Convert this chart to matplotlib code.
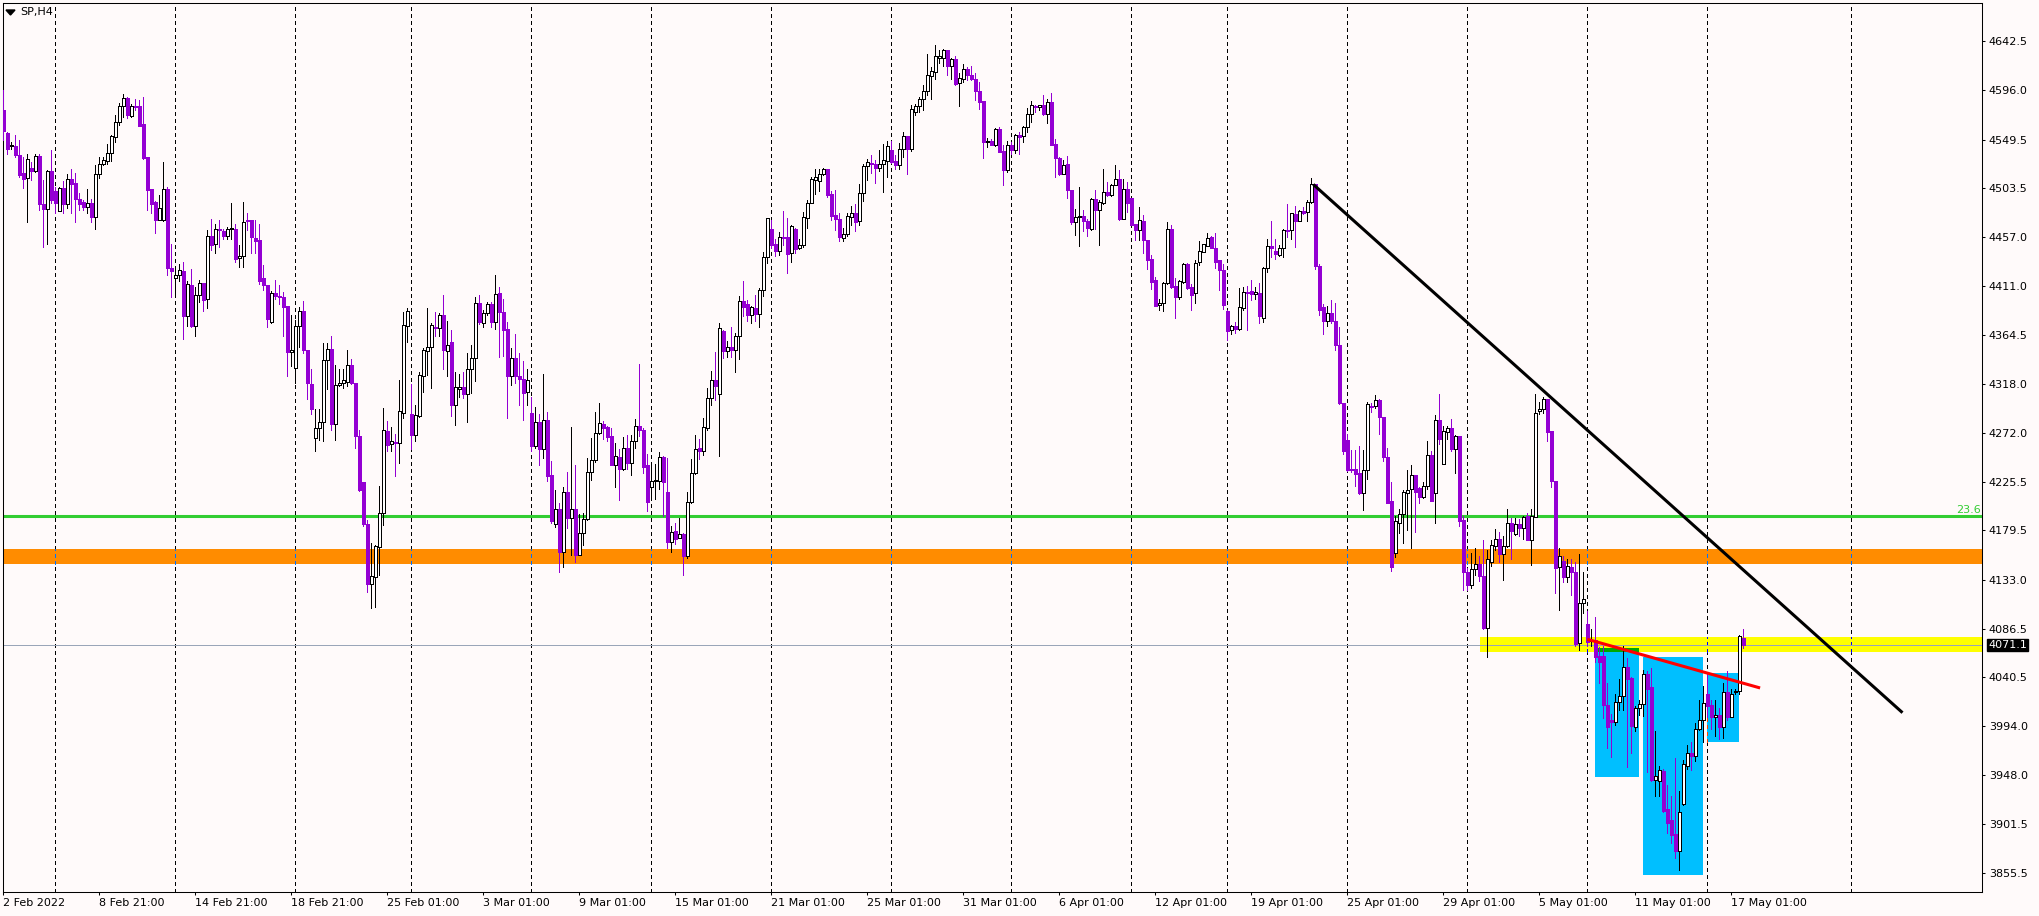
import matplotlib.pyplot as plt
import numpy as np
from matplotlib.patches import Rectangle, Polygon

# SP, H4 bars (index = bar number from 2 Feb 2022)
opens = [
    4577, 4556, 4543, 4543, 4535, 4518, 4513, 4523, 4520, 4534, 4488, 4484,
    4520, 4501, 4482, 4504, 4488, 4512, 4508, 4493, 4490, 4486, 4489, 4476,
    4517, 4526, 4529, 4537, 4552, 4566, 4581, 4589, 4572, 4581, 4581, 4564,
    4533, 4503, 4490, 4473, 4473, 4503, 4428, 4418, 4421, 4425, 4382, 4412,
    4373, 4402, 4414, 4399, 4458, 4451, 4465, 4463, 4458, 4465, 4465, 4437,
    4439, 4473, 4473, 4456, 4454, 4418, 4412, 4377, 4404, 4401, 4400, 4392,
    4348, 4333, 4373, 4387, 4350, 4318, 4267, 4276, 4282, 4341, 4351, 4280,
    4317, 4319, 4320, 4336, 4319, 4269, 4225, 4186, 4129, 4135, 4164, 4196,
    4274, 4261, 4263, 4262, 4291, 4373, 4290, 4270, 4288, 4326, 4349, 4353,
    4372, 4371, 4383, 4349, 4358, 4298, 4313, 4315, 4309, 4332, 4343, 4395,
    4376, 4385, 4394, 4377, 4404, 4386, 4370, 4326, 4343, 4326, 4323, 4311,
    4291, 4259, 4282, 4257, 4284, 4232, 4186, 4200, 4159, 4216, 4191, 4200,
    4156, 4177, 4190, 4235, 4246, 4272, 4280, 4277, 4269, 4241, 4249, 4238,
    4258, 4243, 4264, 4278, 4275, 4241, 4221, 4226, 4226, 4249, 4216, 4169,
    4179, 4172, 4176, 4155, 4206, 4234, 4258, 4255, 4276, 4305, 4322, 4309,
    4368, 4349, 4353, 4350, 4364, 4397, 4394, 4383, 4390, 4384, 4407, 4438,
    4465, 4451, 4444, 4457, 4457, 4442, 4465, 4447, 4450, 4475, 4489, 4511,
    4510, 4517, 4522, 4498, 4478, 4474, 4456, 4460, 4476, 4480, 4472, 4499,
    4524, 4527, 4526, 4523, 4526, 4529, 4540, 4529, 4525, 4541, 4553, 4541,
    4576, 4581, 4588, 4595, 4610, 4613, 4627, 4627, 4634, 4619, 4626, 4603,
    4607, 4616, 4611, 4607, 4595, 4586, 4547, 4548, 4544, 4559, 4539, 4521,
    4544, 4540, 4554, 4553, 4561, 4574, 4581, 4580, 4582, 4574, 4585, 4545,
    4532, 4517, 4526, 4502, 4471, 4476, 4477, 4472, 4465, 4493, 4483, 4489,
    4500, 4497, 4506, 4512, 4474, 4503, 4494, 4470, 4464, 4472, 4454, 4436,
    4417, 4393, 4395, 4414, 4465, 4411, 4400, 4415, 4432, 4410, 4404, 4434,
    4443, 4449, 4457, 4447, 4435, 4426, 4387, 4369, 4373, 4370, 4390, 4405,
    4406, 4403, 4404, 4381, 4428, 4449, 4444, 4440, 4447, 4464, 4464, 4479,
    4472, 4482, 4481, 4490, 4507, 4430, 4391, 4378, 4385, 4378, 4355, 4300,
    4265, 4238, 4238, 4234, 4215, 4237, 4297.5, 4297, 4303, 4287, 4249, 4207,
    4158, 4187, 4195, 4215, 4219, 4232, 4220, 4211, 4222, 4251, 4215, 4284,
    4242, 4273, 4276, 4257, 4269, 4189, 4140, 4128, 4143, 4148, 4136, 4087,
    4150, 4165, 4171, 4157, 4165, 4187, 4176, 4186, 4182, 4193, 4170, 4192,
    4293, 4294, 4304, 4274, 4226, 4145, 4151, 4135, 4145, 4140, 4073, 4111,
    4091, 4075, 4076, 4061, 4061, 4014, 4000, 3998, 4017, 4023, 4050, 4040,
    3993, 4011, 4015, 4044, 4031, 3943, 3942, 3952, 3916, 3905, 3892, 3876,
    3921, 3957, 3969, 3966, 3992, 4000, 4025, 4014, 4003, 4005, 3993, 4027,
    4003, 4027, 4028, 4078,
]
highs = [
    4596, 4557, 4547, 4554, 4549, 4533, 4536, 4528, 4536, 4536, 4511, 4521,
    4540, 4505, 4505, 4510, 4517, 4522, 4518, 4499, 4492, 4503, 4493, 4525,
    4533, 4533, 4545, 4554, 4573, 4584, 4593, 4590, 4583, 4588, 4587, 4590,
    4533, 4503, 4491, 4497, 4528, 4505, 4451, 4428, 4432, 4434, 4416, 4427,
    4410, 4417, 4414, 4464, 4474, 4470, 4473, 4465, 4467, 4489, 4470, 4450,
    4490, 4480, 4473, 4473, 4470, 4431, 4412, 4406, 4417, 4412, 4405, 4392,
    4383, 4379, 4391, 4397, 4350, 4332, 4294, 4294, 4357, 4357, 4364, 4336,
    4332, 4332, 4350, 4342, 4319, 4275, 4225, 4189, 4168, 4166, 4222, 4295,
    4283, 4277, 4271, 4322, 4386, 4390, 4318, 4298, 4329, 4352, 4390, 4376,
    4386, 4385, 4402, 4378, 4369, 4329, 4328, 4329, 4347, 4355, 4400, 4402,
    4388, 4396, 4396, 4421, 4410, 4399, 4377, 4352, 4365, 4347, 4340, 4332,
    4306, 4296, 4290, 4328, 4292, 4245, 4218, 4205, 4221, 4235, 4277, 4241,
    4195, 4196, 4248, 4267, 4292, 4300, 4283, 4278, 4276, 4262, 4257, 4268,
    4270, 4270, 4285, 4337, 4276, 4252, 4242, 4242, 4254, 4250, 4248, 4184,
    4187, 4191, 4177, 4216, 4247, 4270, 4266, 4286, 4314, 4330, 4348, 4376,
    4369, 4359, 4372, 4366, 4401, 4416, 4398, 4392, 4402, 4409, 4443, 4475,
    4473, 4455, 4462, 4482, 4475, 4469, 4466, 4455, 4481, 4492, 4514, 4522,
    4522, 4523, 4522, 4501, 4502, 4480, 4466, 4480, 4487, 4488, 4507, 4526,
    4531, 4535, 4530, 4540, 4545, 4548, 4548, 4535, 4546, 4557, 4553, 4582,
    4583, 4590, 4601, 4630, 4618, 4639, 4634, 4635, 4634, 4627, 4629, 4612,
    4621, 4618, 4619, 4612, 4604, 4586, 4551, 4550, 4560, 4561, 4544, 4548,
    4547, 4555, 4557, 4562, 4579, 4586, 4582, 4582, 4592, 4588, 4594, 4550,
    4533, 4530, 4534, 4502, 4484, 4505, 4483, 4474, 4494, 4502, 4492, 4522,
    4509, 4507, 4525, 4521, 4512, 4509, 4494, 4470, 4486, 4478, 4454, 4440,
    4419, 4399, 4415, 4471, 4469, 4418, 4417, 4433, 4433, 4413, 4435, 4453,
    4451, 4461, 4458, 4461, 4435, 4432, 4388, 4374, 4377, 4409, 4410, 4411,
    4417, 4410, 4414, 4429, 4455, 4472, 4455, 4450, 4465, 4488, 4480, 4487,
    4483, 4486, 4492, 4513, 4507, 4432, 4394, 4392, 4398, 4395, 4372, 4300,
    4271, 4256, 4256, 4259, 4256, 4301, 4300, 4308, 4304, 4287, 4258, 4225,
    4193, 4200, 4218, 4237, 4241, 4232, 4221, 4225, 4264, 4255, 4289, 4309,
    4278, 4278, 4285, 4270, 4269, 4193, 4144, 4158, 4163, 4155, 4170, 4161,
    4170, 4181, 4178, 4174, 4200, 4191, 4191, 4190, 4193, 4196, 4200, 4309,
    4301, 4306, 4304, 4274, 4226, 4163, 4155, 4152, 4152, 4150, 4157, 4140,
    4103, 4086, 4098, 4069, 4070, 4035, 4006, 4025, 4039, 4070, 4059, 4041,
    4013, 4019, 4047, 4046, 4049, 3990, 3957, 3954, 3939, 3928, 3964, 3933,
    3962, 3976, 3979, 3997, 4019, 4032, 4044, 4019, 4019, 4011, 4035, 4046,
    4029, 4029, 4081, 4086,
]
lows = [
    4549, 4536, 4541, 4533, 4514, 4504, 4471, 4511, 4519, 4483, 4448, 4451,
    4489, 4480, 4482, 4480, 4485, 4480, 4471, 4483, 4483, 4480, 4471, 4465,
    4513, 4525, 4526, 4529, 4547, 4563, 4571, 4570, 4571, 4577, 4562, 4531,
    4483, 4480, 4461, 4473, 4472, 4421, 4400, 4404, 4416, 4361, 4373, 4372,
    4364, 4396, 4387, 4390, 4445, 4442, 4448, 4455, 4455, 4455, 4434, 4429,
    4429, 4464, 4442, 4442, 4413, 4407, 4372, 4376, 4399, 4394, 4364, 4326,
    4335, 4319, 4353, 4347, 4304, 4290, 4255, 4265, 4264, 4313, 4275, 4265,
    4316, 4314, 4316, 4318, 4258, 4217, 4184, 4121, 4106, 4107, 4137, 4185,
    4255, 4255, 4231, 4243, 4286, 4358, 4257, 4264, 4287, 4311, 4327, 4314,
    4364, 4364, 4332, 4326, 4288, 4279, 4306, 4305, 4282, 4310, 4321, 4375,
    4372, 4383, 4372, 4370, 4344, 4345, 4286, 4317, 4319, 4298, 4284, 4298,
    4255, 4258, 4241, 4248, 4226, 4187, 4183, 4140, 4145, 4182, 4156, 4150,
    4156, 4166, 4189, 4227, 4244, 4271, 4266, 4264, 4241, 4221, 4208, 4237,
    4238, 4232, 4258, 4269, 4234, 4198, 4211, 4209, 4219, 4193, 4163, 4159,
    4167, 4172, 4137, 4153, 4205, 4233, 4247, 4251, 4275, 4298, 4303, 4250,
    4343, 4344, 4344, 4329, 4342, 4382, 4378, 4376, 4378, 4372, 4401, 4433,
    4447, 4439, 4440, 4450, 4423, 4434, 4442, 4446, 4448, 4466, 4489, 4498,
    4501, 4516, 4495, 4473, 4464, 4453, 4453, 4458, 4469, 4463, 4469, 4491,
    4511, 4518, 4508, 4520, 4500, 4514, 4527, 4522, 4522, 4533, 4517, 4539,
    4573, 4576, 4577, 4592, 4588, 4607, 4622, 4619, 4611, 4607, 4601, 4581,
    4604, 4606, 4606, 4587, 4578, 4532, 4542, 4544, 4543, 4538, 4506, 4519,
    4536, 4537, 4536, 4547, 4557, 4566, 4576, 4577, 4573, 4565, 4544, 4514,
    4516, 4517, 4494, 4470, 4459, 4449, 4463, 4458, 4464, 4465, 4450, 4488,
    4496, 4496, 4506, 4473, 4474, 4481, 4469, 4454, 4454, 4442, 4427, 4408,
    4392, 4388, 4387, 4413, 4409, 4381, 4399, 4414, 4408, 4388, 4395, 4431,
    4443, 4449, 4447, 4428, 4407, 4389, 4360, 4365, 4366, 4369, 4388, 4369,
    4398, 4399, 4376, 4377, 4424, 4438, 4436, 4439, 4438, 4457, 4455, 4448,
    4472, 4479, 4472, 4489, 4427, 4383, 4365, 4373, 4376, 4350, 4299, 4252,
    4236, 4235, 4222, 4214, 4199, 4228, 4292, 4295, 4271, 4245, 4205, 4141,
    4154, 4177, 4168, 4180, 4163, 4178, 4205, 4210, 4219, 4207, 4187, 4261,
    4242, 4266, 4255, 4234, 4184, 4123, 4123, 4125, 4137, 4132, 4086, 4060,
    4146, 4161, 4150, 4133, 4164, 4152, 4175, 4174, 4171, 4170, 4147, 4192,
    4290, 4291, 4264, 4221, 4120, 4104, 4131, 4131, 4118, 4070, 4066, 4101,
    4070, 4070, 4055, 4035, 4002, 3974, 3965, 3995, 4010, 4010, 3956, 3969,
    3990, 4005, 4004, 3951, 3942, 3928, 3928, 3913, 3893, 3884, 3869, 3858,
    3920, 3954, 3953, 3961, 3991, 3979, 4003, 3992, 3985, 3982, 3983, 4000,
    4003, 4025, 4025, 4068,
]
closes = [
    4558, 4541, 4544, 4535, 4516, 4512, 4531, 4520, 4534, 4488, 4484, 4520,
    4492, 4489, 4504, 4488, 4512, 4507, 4493, 4488, 4486, 4489, 4476, 4517,
    4526, 4530, 4537, 4553, 4566, 4581, 4589, 4573, 4581, 4580, 4562, 4532,
    4502, 4488, 4473, 4485, 4503, 4428, 4425, 4421, 4426, 4382, 4413, 4373,
    4402, 4414, 4398, 4458, 4450, 4465, 4464, 4458, 4465, 4466, 4436, 4439,
    4471, 4472, 4457, 4453, 4416, 4412, 4380, 4404, 4401, 4400, 4391, 4348,
    4350, 4373, 4387, 4350, 4319, 4294, 4276, 4282, 4341, 4351, 4280, 4317,
    4319, 4322, 4336, 4319, 4269, 4218, 4186, 4129, 4136, 4165, 4196, 4275,
    4260, 4264, 4262, 4293, 4374, 4387, 4270, 4289, 4327, 4350, 4353, 4374,
    4371, 4383, 4350, 4355, 4298, 4315, 4315, 4309, 4332, 4343, 4395, 4377,
    4385, 4394, 4377, 4403, 4386, 4369, 4326, 4343, 4326, 4323, 4310, 4322,
    4259, 4282, 4257, 4284, 4231, 4188, 4200, 4159, 4216, 4191, 4200, 4156,
    4177, 4190, 4235, 4246, 4272, 4281, 4276, 4268, 4241, 4250, 4238, 4258,
    4243, 4264, 4278, 4275, 4240, 4206, 4226, 4227, 4249, 4225, 4169, 4178,
    4171, 4176, 4155, 4206, 4234, 4257, 4255, 4277, 4305, 4322, 4316, 4371,
    4349, 4353, 4350, 4364, 4397, 4391, 4383, 4391, 4384, 4407, 4438, 4475,
    4450, 4444, 4457, 4456, 4441, 4468, 4446, 4450, 4476, 4489, 4512, 4514,
    4517, 4522, 4497, 4477, 4474, 4457, 4460, 4477, 4480, 4471, 4499, 4524,
    4528, 4526, 4523, 4526, 4530, 4543, 4528, 4525, 4541, 4553, 4541, 4578,
    4581, 4588, 4595, 4611, 4614, 4629, 4629, 4634, 4619, 4626, 4602, 4608,
    4616, 4611, 4607, 4595, 4585, 4547, 4548, 4544, 4559, 4538, 4521, 4544,
    4540, 4554, 4552, 4561, 4574, 4582, 4580, 4582, 4574, 4585, 4544, 4532,
    4517, 4525, 4502, 4471, 4476, 4477, 4472, 4466, 4493, 4483, 4490, 4500,
    4497, 4506, 4512, 4474, 4503, 4489, 4469, 4464, 4473, 4454, 4435, 4415,
    4392, 4395, 4414, 4465, 4410, 4400, 4416, 4432, 4409, 4402, 4433, 4444,
    4451, 4456, 4447, 4434, 4426, 4393, 4368, 4373, 4370, 4391, 4405, 4404,
    4403, 4405, 4382, 4428, 4449, 4447, 4441, 4447, 4464, 4463, 4480, 4472,
    4482, 4480, 4490, 4507, 4430, 4388, 4378, 4385, 4378, 4355, 4300, 4255,
    4237, 4237, 4233, 4215, 4237, 4299, 4296.5, 4303, 4287, 4249, 4205, 4145,
    4188, 4195, 4216, 4218, 4232, 4216, 4211, 4222, 4251, 4207, 4284, 4266,
    4274, 4276, 4257, 4269, 4188, 4140, 4128, 4143, 4148, 4136, 4087, 4152,
    4166, 4171, 4157, 4165, 4187, 4179, 4186, 4182, 4192, 4170, 4193, 4291,
    4294, 4304, 4273, 4226, 4144, 4155, 4135, 4146, 4140, 4072, 4111, 4115,
    4074, 4076, 4060, 4055, 4014, 3993, 3998, 4017, 4023, 4050, 4039, 3994,
    4011, 4015, 4044, 4029, 3943, 3947, 3953, 3914, 3903, 3891, 3876, 3913,
    3958, 3969, 3966, 3992, 4000, 4016, 4013, 4003, 4005, 3993, 4027, 4003,
    4025, 4028, 4080, 4071.1,
]

date_labels = ["2 Feb 2022", "8 Feb 21:00", "14 Feb 21:00", "18 Feb 21:00",
               "25 Feb 01:00", "3 Mar 01:00", "9 Mar 01:00", "15 Mar 01:00",
               "21 Mar 01:00", "25 Mar 01:00", "31 Mar 01:00", "6 Apr 01:00",
               "12 Apr 01:00", "19 Apr 01:00", "25 Apr 01:00", "29 Apr 01:00",
               "5 May 01:00", "11 May 01:00", "17 May 01:00"]
label_bars = [0, 24, 48, 72, 96, 120, 144, 168, 192, 216, 240, 264,
              288, 312, 336, 360, 384, 408, 432]
week_bars = [13, 43, 73, 102, 132, 162, 192, 222, 252, 282, 306, 336,
             366, 396, 426, 462]
price_ticks = [4642.5, 4596.0, 4549.5, 4503.5, 4457.0, 4411.0, 4364.5,
               4318.0, 4272.0, 4225.5, 4179.5, 4133.0, 4086.5, 4040.5,
               3994.0, 3948.0, 3901.5, 3855.5]

fib_level = 4193.6
orange_zone = (4148, 4162)
yellow_zone = (4064.7, 4078.4)
yellow_start = 369.2
last_price = 4071.1
black_trend = ([327.5, 474.8], [4507, 4007])
red_trend = ([396, 439.2], [4076.5, 4030.4])
blue_boxes = [(397.9, 408.9, 3946.4, 4068.5),
              (409.9, 424.9, 3853.4, 4060.0),
              (426.0, 433.9, 3979.5, 4044.9)]

BG = '#fffafa'
PURPLE = '#9400d3'
W, H = 2039, 916

fig = plt.figure(figsize=(W / 100, H / 100), dpi=100, facecolor=BG)
ax = fig.add_axes([2.7 / W, (H - 892.3) / H, (1982.3 - 2.7) / W, (892.3 - 2.7) / H])
ax.set_facecolor(BG)
ax.set_xlim(-0.15, 494.75)
ax.set_ylim(3837.0, 4679.0)

# week separators
for k in week_bars:
    ax.axvline(k, color='black', lw=0.75, ls=(0, (3, 3)), zorder=0.5, antialiased=False)

# zones and levels
ax.axhspan(*orange_zone, color='#ff8c00', lw=0, zorder=1)
ax.add_patch(Rectangle((yellow_start, yellow_zone[0]), 200, yellow_zone[1] - yellow_zone[0],
                       color='#ffff00', lw=0, zorder=1))
for x0, x1, y0, y1 in blue_boxes:
    ax.add_patch(Rectangle((x0, y0), x1 - x0, y1 - y0, color='#00bfff', lw=0, zorder=1))
ax.add_patch(Rectangle((blue_boxes[0][0], yellow_zone[0]), blue_boxes[0][1] - blue_boxes[0][0],
                       blue_boxes[0][3] - yellow_zone[0], color='#00a800', lw=0, zorder=1.2))

# grid dashes drawn inverted over filled zones (MT4 xor look)
for k in week_bars:
    ax.vlines(k, *orange_zone, color='#0073ff', lw=0.75, ls=(0, (3, 3)), zorder=1.5,
              antialiased=False)
    if k >= yellow_start:
        ax.vlines(k, *yellow_zone, color='#0000ff', lw=0.75, ls=(0, (3, 3)), zorder=1.5,
                  antialiased=False)
    for x0, x1, y0, y1 in blue_boxes:
        if x0 <= k <= x1:
            ax.vlines(k, y0, y1, color='#ff4000', lw=0.75, ls=(0, (3, 3)), zorder=1.5,
                      antialiased=False)

ax.axhline(fib_level, color='#32cd32', lw=2.2, zorder=2)
ax.axhline(last_price, color='#9aa5b8', lw=0.72, zorder=2, antialiased=False)

# candles
o = np.array(opens, dtype=float)
h = np.array(highs, dtype=float)
l = np.array(lows, dtype=float)
c = np.array(closes, dtype=float)
h = np.maximum(h, np.maximum(o, c))
l = np.minimum(l, np.minimum(o, c))
x = np.arange(len(c))
up = c >= o
dn = ~up
ax.vlines(x[up], l[up], h[up], color='black', lw=0.72, zorder=3, antialiased=False)
ax.vlines(x[dn], l[dn], h[dn], color=PURPLE, lw=0.72, zorder=3, antialiased=False)
ax.bar(x[up], np.maximum(c[up] - o[up], 0.3), bottom=o[up], width=0.62,
       color='white', edgecolor='black', linewidth=0.72, zorder=4, antialiased=False)
ax.bar(x[dn], np.maximum(o[dn] - c[dn], 0.3), bottom=c[dn], width=0.62,
       color=PURPLE, edgecolor=PURPLE, linewidth=0.72, zorder=4, antialiased=False)

# trend lines
ax.plot(*black_trend, color='black', lw=2.2, zorder=5, solid_capstyle='butt')
ax.plot(*red_trend, color='red', lw=2.2, zorder=5, solid_capstyle='butt')

# axes styling
for s in ax.spines.values():
    s.set_color('black')
    s.set_linewidth(0.75)
ax.yaxis.tick_right()
ax.set_yticks(price_ticks)
ax.set_yticklabels([f'{v:.1f}' for v in price_ticks])
ax.tick_params(axis='y', length=2.2, width=0.75, pad=2.5, labelsize=8, colors='black')
ax.set_xticks(label_bars)
ax.set_xticklabels(date_labels, ha='left')
ax.tick_params(axis='x', length=2.2, width=0.75, pad=2.0, labelsize=8, colors='black')

ax.annotate('23.6', xy=(1, fib_level), xycoords=('axes fraction', 'data'),
            xytext=(-1, 1.8), textcoords='offset points', ha='right', va='baseline',
            color='#32cd32', fontsize=8, zorder=6)
ax.annotate(f'{last_price:.1f}', xy=(1, last_price), xycoords=('axes fraction', 'data'),
            xytext=(4.3, 0), textcoords='offset points', ha='left', va='center',
            color='white', fontsize=8, annotation_clip=False,
            bbox=dict(boxstyle='square,pad=0.12', fc='black', ec='black'))

# title in the corner
fig.patches.append(Polygon([(6 / W, 1 - 10 / H), (15 / W, 1 - 10 / H), (10.5 / W, 1 - 15 / H)],
                           closed=True, color='black', transform=fig.transFigure))
fig.text(20.7 / W, 1 - 12.5 / H, 'SP,H4', fontsize=8, va='center', ha='left', color='black')

fig.savefig('out.png', dpi=100, facecolor=BG)
